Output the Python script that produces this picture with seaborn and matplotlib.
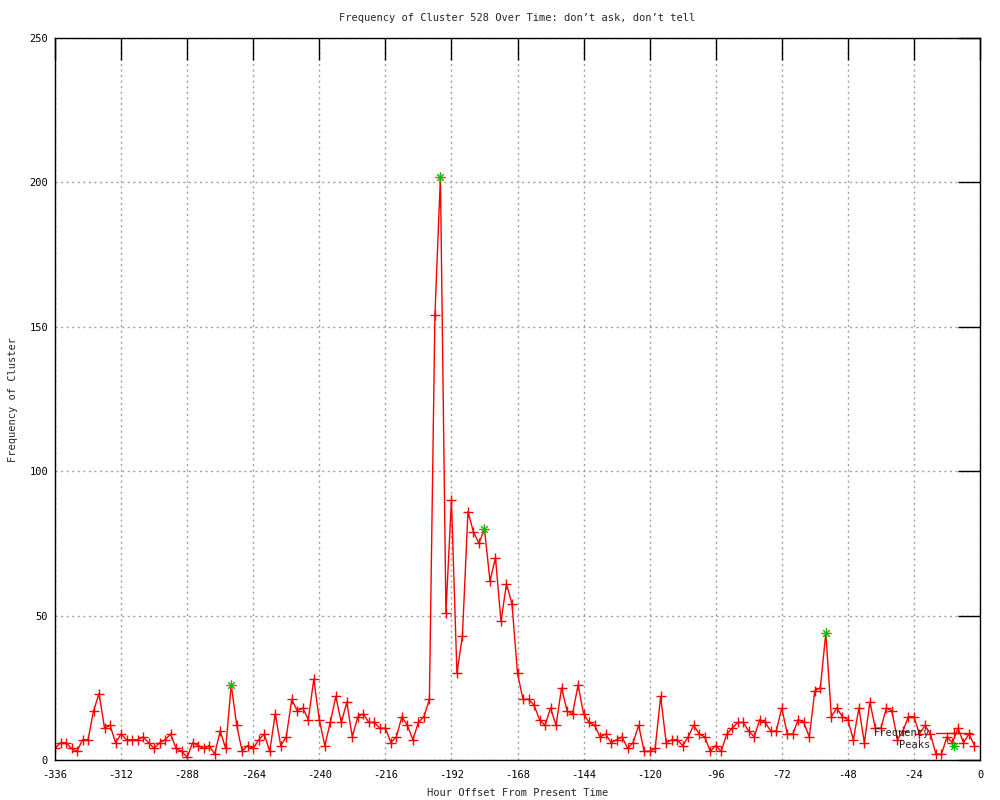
import matplotlib
matplotlib.use("Agg")
import matplotlib.pyplot as plt
import seaborn as sns
import pandas as pd

# ---- data ----
hours = list(range(-336, 0, 2))
frequency = [
    4, 6, 6, 4, 3, 7, 7, 17, 23, 11, 12, 6, 9, 7, 7, 7, 8, 6, 4, 6,
    7, 9, 4, 3, 1, 6, 5, 4, 5, 2, 10, 4, 26, 12, 3, 5, 4, 7, 9, 3,
    16, 5, 8, 21, 17, 18, 14, 28, 14, 5, 13, 22, 13, 20, 8, 15, 16, 13, 13, 11,
    11, 6, 8, 15, 12, 7, 13, 15, 21, 154, 202, 51, 90, 30, 43, 86, 79, 75, 80, 62,
    70, 48, 61, 54, 30, 21, 21, 19, 14, 12, 18, 12, 25, 17, 16, 26, 16, 13, 12, 8,
    9, 6, 7, 8, 4, 6, 12, 3, 3, 4, 22, 6, 7, 7, 5, 8, 12, 9, 8, 3,
    5, 3, 9, 11, 13, 13, 10, 8, 14, 13, 10, 10, 18, 9, 9, 14, 13, 8, 24, 25,
    44, 15, 18, 15, 14, 7, 18, 6, 20, 11, 11, 18, 17, 7, 10, 15, 15, 9, 12, 9,
    2, 2, 8, 6, 11, 6, 9, 5,
]
peak_hours = [-272, -196, -180, -56]
peak_values = [26, 202, 80, 44]
x_ticks = list(range(-336, 1, 24))
y_ticks = [0, 50, 100, 150, 200, 250]

title = "Frequency of Cluster 528 Over Time: don\u2019t ask, don\u2019t tell"
x_label = "Hour Offset From Present Time"
y_label = "Frequency of Cluster"

df = pd.DataFrame({"hour": hours, "freq": frequency})
peaks = pd.DataFrame({"hour": peak_hours, "freq": peak_values})

sns.set_style("white")
plt.rcParams["font.family"] = ["DejaVu Sans Mono"]
plt.rcParams["font.size"] = 7.5

fig = plt.figure(figsize=(10, 8), dpi=100)
ax = fig.add_axes([0.055, 0.05, 0.925, 0.9025])

sns.lineplot(data=df, x="hour", y="freq", ax=ax, color="#ff0000", linewidth=1,
             marker="+", markersize=7.5, markeredgewidth=1,
             markeredgecolor="#ff0000", label="Frequency")
sns.scatterplot(data=peaks, x="hour", y="freq", ax=ax, color="#00c000",
                marker=(8, 2, 0), s=40, linewidth=0.7, edgecolor="#00c000",
                label="Peaks", zorder=3)

ax.set_xlim(-336, 0)
ax.set_ylim(0, 250)
ax.set_xticks(x_ticks)
ax.set_yticks(y_ticks)
ax.set_xticklabels([str(t) for t in x_ticks])
ax.set_yticklabels([str(t) for t in y_ticks])

ax.grid(True, color="#a0a0a0", linestyle=(0, (1.5, 2.5)), linewidth=1)
ax.set_axisbelow(True)
ax.tick_params(direction="in", length=16, width=1, top=True, right=True,
               colors="black", labelsize=7.5)
ax.tick_params(axis="x", pad=7)
ax.tick_params(axis="y", pad=5)
for sp in ax.spines.values():
    sp.set_color("black")
    sp.set_linewidth(1)
    sp.set_visible(True)

ax.set_xlabel(x_label, fontsize=7.5, labelpad=6)
ax.set_ylabel(y_label, fontsize=7.5, labelpad=8)
fig.text(0.5175, 1 - 18 / 800, title, ha="center", va="center", fontsize=7.5)

ax.legend(loc="lower right", bbox_to_anchor=(0.972, 0.062),
          bbox_transform=fig.transFigure, frameon=False, markerfirst=False,
          fontsize=7.5, handlelength=3.5, handletextpad=0.5, labelspacing=0.2,
          borderpad=0, borderaxespad=0)

fig.savefig("out.png", dpi=100, facecolor="white")
